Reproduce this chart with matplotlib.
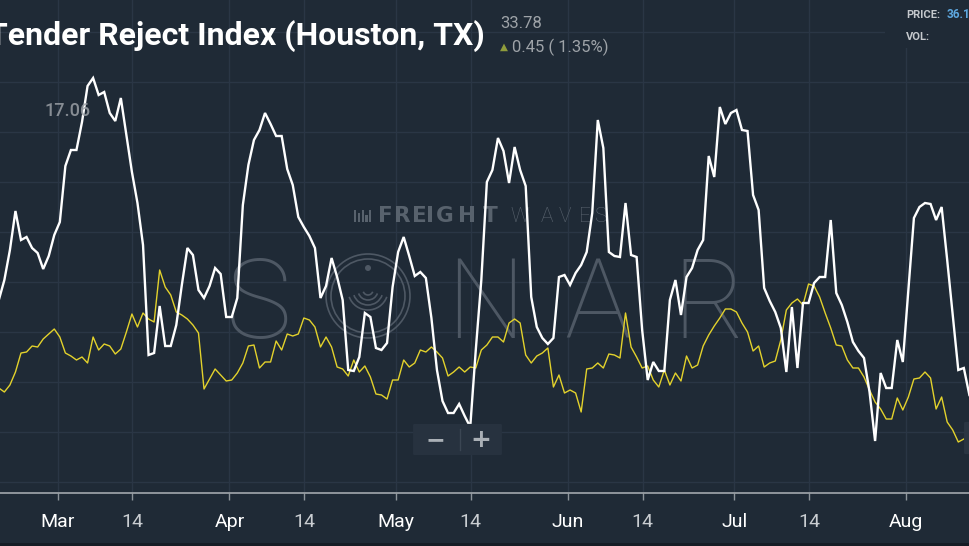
import numpy as np
import pandas as pd
import matplotlib
matplotlib.use("Agg")
import matplotlib.pyplot as plt
import matplotlib.dates as mdates
from matplotlib.patches import Rectangle, FancyBboxPatch, Circle, Arc

# Tender reject index, Houston (white) and comparison index (yellow), daily
houston = [
    18.2, 20.2, 23.2, 27.1, 24.2, 24.5, 23.4, 22.9, 21.3, 22.6, 24.7,
    26.0, 31.6, 33.2, 33.2, 36.0, 39.6, 40.4, 38.7, 39.0, 36.9,
    36.1, 38.4, 34.7, 31.0, 27.9, 23.7, 12.7, 12.9, 17.6, 13.6,
    13.6, 15.7, 19.7, 23.4, 22.7, 19.2, 18.4, 19.6, 21.4, 20.8,
    16.5, 16.5, 18.4, 27.7, 31.7, 34.2, 35.2, 36.9, 35.8, 34.6,
    34.6, 31.3, 29.7, 26.5, 25.5, 24.6, 23.4, 18.4, 19.6, 22.4,
    20.5, 18.2, 11.2, 11.1, 12.5, 16.9, 16.5, 13.4, 13.2, 13.9,
    19.5, 23.0, 24.5, 22.6, 20.6, 21.0, 20.4, 16.4, 11.2, 8.1,
    6.9, 6.9, 7.8, 6.6, 5.5, 13.2, 20.2, 30.0, 31.2, 34.4,
    33.1, 29.9, 33.5, 31.2, 29.6, 18.5, 15.5, 14.4, 13.8, 14.4,
    20.5, 20.7, 19.7, 20.9, 21.7, 23.0, 26.9, 36.2, 33.4, 23.0,
    22.6, 22.5, 27.9, 22.7, 22.5, 15.2, 10.2, 12.0, 11.1, 11.1,
    18.2, 20.2, 16.7, 20.5, 21.4, 23.2, 24.2, 32.6, 30.5, 37.5,
    35.8, 36.9, 37.2, 35.2, 35.1, 28.7, 27.2, 19.4, 18.1, 17.0,
    15.4, 11.0, 17.5, 11.4, 17.9, 17.9, 19.9, 20.5, 20.5, 26.2,
    18.9, 17.7, 16.0, 14.0, 13.1, 12.4, 9.0, 4.1, 10.9, 9.4,
    9.4, 14.2, 12.0, 19.2, 26.4, 27.5, 27.9, 27.8, 26.2, 27.5,
    22.2, 16.7, 11.2, 11.4, 8.7,
]
benchmark = [
    9.4, 9.0, 9.7, 11.0, 12.9, 13.0, 13.6, 13.5, 14.3, 14.8, 15.3,
    14.5, 12.9, 12.6, 12.2, 12.5, 11.9, 14.5, 13.2, 13.8, 13.6,
    12.8, 13.3, 15.0, 16.8, 15.5, 16.9, 16.3, 16.0, 21.2, 19.5,
    18.7, 17.0, 16.7, 16.3, 15.7, 14.9, 9.3, 10.3, 11.3, 10.7,
    10.1, 10.2, 10.9, 11.9, 13.6, 13.7, 11.4, 12.0, 12.0, 14.1,
    13.2, 14.8, 14.6, 14.8, 16.4, 16.2, 15.5, 13.5, 14.5, 13.5,
    11.5, 11.3, 10.6, 12.2, 11.0, 11.6, 10.5, 8.8, 8.7, 8.3,
    10.2, 10.2, 12.2, 11.5, 11.9, 13.2, 13.0, 13.5, 13.0, 12.4,
    10.6, 11.0, 11.5, 11.0, 11.5, 11.4, 13.2, 13.7, 14.5, 14.5,
    14.0, 15.9, 16.3, 15.9, 12.7, 11.9, 12.6, 12.9, 13.4, 9.5,
    10.7, 8.9, 9.2, 8.9, 7.0, 11.3, 11.4, 11.9, 11.4, 12.8,
    12.7, 12.4, 16.9, 13.5, 12.5, 11.4, 11.6, 10.2, 9.5, 11.2,
    9.7, 10.9, 10.1, 12.6, 11.4, 11.7, 13.6, 14.7, 15.6, 16.4,
    17.3, 17.3, 17.0, 15.9, 15.0, 13.1, 13.6, 11.5, 11.9, 12.1,
    14.2, 17.2, 17.9, 18.3, 17.7, 19.8, 19.6, 18.5, 16.9, 15.4,
    13.7, 13.6, 12.2, 11.4, 11.4, 10.5, 9.2, 8.0, 7.3, 6.3,
    6.3, 8.4, 7.2, 8.5, 10.3, 10.4, 11.0, 10.4, 7.3, 8.5,
    6.0, 5.2, 4.0, 4.3,
]
dates = pd.date_range("2019-02-18 10:00", periods=len(houston), freq="D")

month_labels = ["Mar", "Apr", "May", "Jun", "Jul", "Aug"]
month_ticks = pd.to_datetime(["2019-03-01", "2019-04-01", "2019-05-01",
                              "2019-06-01", "2019-07-01", "2019-08-01"])
mid_ticks = pd.to_datetime(["2019-03-14 12:00", "2019-04-14 12:00", "2019-05-14 12:00",
                            "2019-06-14 12:00", "2019-07-14 12:00", "2019-08-14 12:00"])

bg = "#1f2a36"
W, H = 970, 546


def fx(x):
    return x / W


def fy(y):
    return 1 - y / H


fig = plt.figure(figsize=(9.7, 5.46), dpi=100, facecolor=bg)
ax = fig.add_axes([0, 53 / H, 1, 493 / H])
ax.set_facecolor(bg)

t0 = pd.Timestamp("2019-03-01")
ax.set_xlim(mdates.date2num(t0 - pd.Timedelta(days=10.37)),
            mdates.date2num(t0 + pd.Timedelta(days=164.53)))
ax.set_ylim(-1.1, 48.2)

ticks = sorted(list(month_ticks) + list(mid_ticks[:-1]))
ax.set_xticks([mdates.date2num(t) for t in ticks])
ax.set_yticks(np.arange(0, 50, 5))
ax.grid(True, color="#2a3645", lw=1)
ax.tick_params(axis="x", length=5, width=1, color="#8d949b", labelbottom=False)
ax.tick_params(axis="y", left=False, labelleft=False)
for s in ["top", "left", "right"]:
    ax.spines[s].set_visible(False)
ax.spines["bottom"].set_color("#a3a8ad")
ax.spines["bottom"].set_linewidth(1.2)

lab_y = (493 - 522) / 493
for t, lab in zip(month_ticks, month_labels):
    ax.text(mdates.date2num(t), lab_y, lab, transform=ax.get_xaxis_transform(),
            ha="center", va="center", color="white", fontsize=14, family="Roboto", clip_on=False)
for t in mid_ticks:
    ax.text(mdates.date2num(t), lab_y, "14", transform=ax.get_xaxis_transform(),
            ha="center", va="center", color="#c9cdd1", fontsize=14, family="Roboto", clip_on=False)

# lines
ax.plot(dates[:len(benchmark)], benchmark, color="#e3d22c", lw=1.0, zorder=3)
ax.plot(dates, houston, color="white", lw=1.7, zorder=4, solid_joinstyle="miter")

# watermark
wm = "#4e5864"
for ch, xc in [("S", 259), ("N", 485), ("A", 597), ("R", 709)]:
    ax.text(fx(xc), fy(338), ch, transform=fig.transFigure, ha="center", va="baseline",
            fontsize=80, family="Roboto", fontweight=100, color=wm, zorder=2)
cx, cy = 368 / 100, (H - 296) / 100
for r in [0.42, 0.37]:
    ax.add_patch(Circle((cx, cy), r, transform=fig.dpi_scale_trans, fill=False,
                        ec=wm, lw=1.2, zorder=2, clip_on=False))
for r in [0.05, 0.1, 0.15, 0.2]:
    ax.add_patch(Arc((cx, cy + 0.06), 2 * r, 2 * r, theta1=200, theta2=340,
                     transform=fig.dpi_scale_trans, ec=wm, lw=1.2, zorder=2))
ax.add_patch(Circle((cx, (H - 268) / 100), 0.03, transform=fig.dpi_scale_trans,
                    fc=wm, ec="none", zorder=2))
wm2 = "#58626d"
for ch, xc in zip("FREIGHT", [385, 402, 419, 430.5, 445, 467, 490]):
    ax.text(fx(xc), fy(222), ch, transform=fig.transFigure, ha="center", va="baseline",
            fontsize=15.5, family="DejaVu Sans", fontweight="bold", color=wm2, zorder=2)
for ch, xc in zip("WAVES", [520, 547, 565, 585, 601]):
    ax.text(fx(xc), fy(222), ch, transform=fig.transFigure, ha="center", va="baseline",
            fontsize=15, family="Roboto", fontweight=100, color=wm2, zorder=2)
for i, hh in enumerate([12, 9, 12, 7, 12]):
    ax.add_patch(Rectangle((fx(354 + i * 3.8), fy(222)), fx(2.2), hh / H,
                           transform=fig.transFigure, fc=wm2, ec="none", zorder=2))

# value label
ax.text(fx(45), fy(111), "17.06", transform=fig.transFigure, ha="left", va="center",
        fontsize=13, family="Roboto", fontweight="medium", color="#9a9fa5", alpha=0.85, zorder=5)

# zoom buttons
ax.add_patch(FancyBboxPatch((fx(415), fy(454)), fx(85), 29 / H, boxstyle="round,pad=0.002",
                            transform=fig.transFigure, fc="#27323f", ec="none", zorder=6, clip_on=False))
ax.plot([fx(460), fx(460)], [fy(429), fy(450)], transform=fig.transFigure, color="#3b4653",
        lw=1, zorder=7)
ax.text(fx(435), fy(440), "\u2212", transform=fig.transFigure, ha="center", va="center",
        fontsize=17, fontweight="bold", color="#aab0b6", zorder=7)
ax.text(fx(481), fy(440), "+", transform=fig.transFigure, ha="center", va="center",
        fontsize=18, fontweight="bold", color="#aab0b6", zorder=7)
ax.add_patch(FancyBboxPatch((fx(966), fy(453)), fx(20), 30 / H, boxstyle="round,pad=0.002",
                            transform=fig.transFigure, fc="#2a3542", ec="none", zorder=6, clip_on=False))

# price box top right
ax.add_patch(Rectangle((fx(885), fy(48)), fx(85), 48 / H, transform=fig.transFigure,
                       fc=bg, ec="none", zorder=6, clip_on=False))
fig.text(fx(906), fy(15), "PRICE:", ha="left", va="center", fontsize=8, family="Roboto",
         fontweight="bold", color="#c5c9cd")
fig.text(fx(947), fy(15), "36.1", ha="left", va="center", fontsize=8.5, family="Roboto",
         fontweight="bold", color="#5ea8e0")
fig.text(fx(906), fy(37), "VOL:", ha="left", va="center", fontsize=8, family="Roboto",
         fontweight="bold", color="#c5c9cd")

# title
fig.text(fx(485), fy(36), "Tender Reject Index (Houston, TX)", ha="right", va="center",
         fontsize=23, family="Roboto", fontweight="bold", color="white")
fig.text(fx(500), fy(24), "33.78", ha="left", va="center", fontsize=12, family="Roboto",
         color="#9ea3a8")
fig.text(fx(504), fy(47), "\u25b2", ha="center", va="center", fontsize=7.5,
         family="DejaVu Sans", color="#8f9c3c")
fig.text(fx(512), fy(47), "0.45 ( 1.35%)", ha="left", va="center", fontsize=12,
         family="Roboto", color="#9ea3a8")

fig.add_artist(Rectangle((0, 0), 1, 3 / H, transform=fig.transFigure, fc="#151c25", ec="none"))

fig.savefig("out.png", dpi=100, facecolor=bg)
